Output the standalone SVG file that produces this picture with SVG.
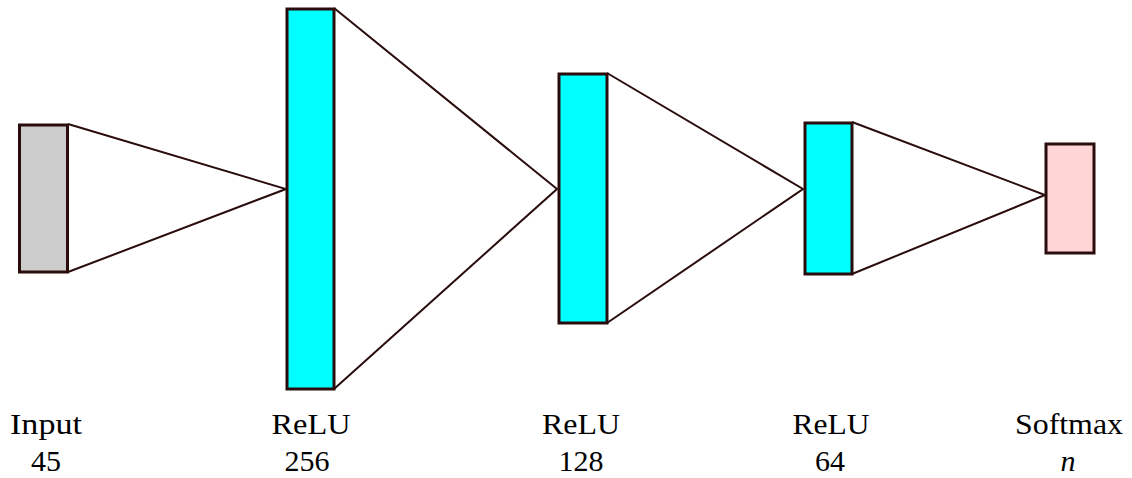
<svg xmlns="http://www.w3.org/2000/svg" width="1132" height="478" viewBox="0 0 1132 478">
<style>
.box{stroke:#2a0c0c;stroke-width:3}
.relu{fill:#00ffff}
.edge{stroke:#2a0c0c;stroke-width:2;fill:none}
.lbl{font-family:"Liberation Serif",serif;font-size:30px;fill:#000;text-anchor:middle}
</style>
<rect width="1132" height="478" fill="#fff"/>
<g id="connectors">
<path class="edge" d="M68,124 L286,189 L68,272"/>
<path class="edge" d="M334,8 L557,189 L334,389"/>
<path class="edge" d="M607,73 L803,189 L607,323"/>
<path class="edge" d="M852,122 L1045,195 L852,274"/>
</g>
<g id="input">
<rect class="box" x="19.5" y="125" width="48" height="147" fill="#cccccc"/>
<text class="lbl" x="46" y="434" textLength="72" lengthAdjust="spacingAndGlyphs">Input</text>
<text class="lbl" x="46" y="471">45</text>
</g>
<g id="relu256">
<rect class="box relu" x="287" y="9" width="47" height="380"/>
<text class="lbl" x="311" y="434" textLength="79" lengthAdjust="spacingAndGlyphs">ReLU</text>
<text class="lbl" x="307" y="471">256</text>
</g>
<g id="relu128">
<rect class="box relu" x="559" y="74" width="48" height="249"/>
<text class="lbl" x="581" y="434" textLength="78" lengthAdjust="spacingAndGlyphs">ReLU</text>
<text class="lbl" x="581" y="471">128</text>
</g>
<g id="relu64">
<rect class="box relu" x="805" y="123" width="47" height="151"/>
<text class="lbl" x="831" y="434" textLength="77" lengthAdjust="spacingAndGlyphs">ReLU</text>
<text class="lbl" x="830" y="471">64</text>
</g>
<g id="softmax">
<rect class="box" x="1046" y="144" width="48" height="109" fill="#ffd5d5"/>
<text class="lbl" x="1069" y="434" textLength="108" lengthAdjust="spacingAndGlyphs">Softmax</text>
<text class="lbl" x="1068" y="471" font-style="italic">n</text>
</g>
</svg>
